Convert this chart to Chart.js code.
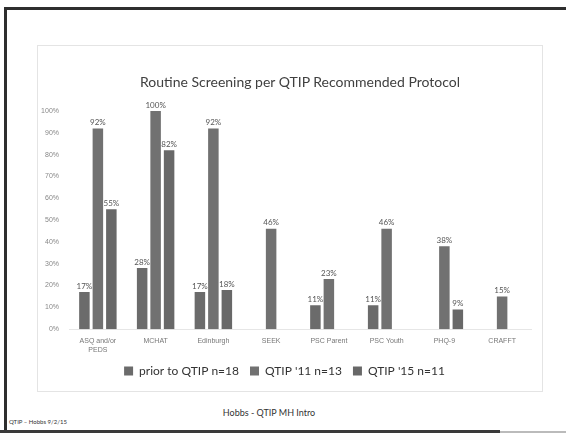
<!DOCTYPE html>
<html><head><meta charset="utf-8">
<script src="https://cdn.jsdelivr.net/npm/chart.js@4/dist/chart.umd.min.js"></script>
<style>
html,body{margin:0;padding:0;background:#fff;width:566px;height:433px;overflow:hidden;font-family:Lato,"Liberation Sans",sans-serif;}
#frameTop{position:absolute;left:4px;top:7px;width:562px;height:3px;background:#2e2e2e;}
#frameLeft{position:absolute;left:4px;top:7px;width:3px;height:426px;background:#2e2e2e;}
#frameBottom{position:absolute;left:0;top:430px;width:500px;height:3px;background:#3a3a3a;}
#frameBottom2{position:absolute;left:500px;top:431px;width:66px;height:2px;background:#bbb;}
#box{position:absolute;left:37px;top:45px;width:506px;height:347px;border:1px solid #e4e4e4;box-sizing:border-box;}
#title{position:absolute;left:0;width:600px;top:73px;text-align:center;font-size:14px;color:#404040;white-space:nowrap;}
#foot1{position:absolute;left:0;width:538px;top:407px;text-align:center;font-size:9px;color:#333;}
#foot2{position:absolute;left:9px;top:418px;font-size:6px;color:#333;}
</style></head><body>
<div id="frameTop"></div><div id="frameLeft"></div><div id="frameBottom"></div><div id="frameBottom2"></div>
<div id="box"><canvas id="c" width="504" height="345"></canvas></div>
<div id="title">Routine Screening per QTIP Recommended Protocol</div>
<div id="foot1">Hobbs - QTIP MH Intro</div>
<div id="foot2">QTIP – Hobbs 9/2/15</div>
<script>
const categories = [["ASQ and/or","PEDS"],"MCHAT","Edinburgh","SEEK","PSC Parent","PSC Youth","PHQ-9","CRAFFT"];
const seriesNames = ["prior to QTIP n=18","QTIP '11 n=13","QTIP '15 n=11"];
const priorValues = [17, 28, 17, null, 11, 11, null, null];
const qtip11Values = [92, 100, 92, 46, 23, 46, 38, 15];
const qtip15Values = [55, 82, 18, null, null, null, 9, null];
const barColors = ["#6b6b6b", "#717171", "#686868"];

const labelPlugin = {
  id: 'valueLabels',
  afterDatasetsDraw(chart) {
    const ctx = chart.ctx;
    ctx.save();
    ctx.font = '8px Lato, "Liberation Sans", sans-serif';
    ctx.fillStyle = '#555';
    ctx.textAlign = 'center';
    ctx.textBaseline = 'bottom';
    chart.data.datasets.forEach((ds, i) => {
      const meta = chart.getDatasetMeta(i);
      meta.data.forEach((el, j) => {
        const v = ds.data[j];
        if (v === null || v === undefined) return;
        ctx.fillText(v + '%', el.x, el.y - 2);
      });
    });
    ctx.restore();
  }
};

new Chart(document.getElementById('c'), {
  type: 'bar',
  data: {
    labels: categories,
    datasets: [
      {label: seriesNames[0], data: priorValues, backgroundColor: barColors[0]},
      {label: seriesNames[1], data: qtip11Values, backgroundColor: barColors[1]},
      {label: seriesNames[2], data: qtip15Values, backgroundColor: barColors[2]}
    ]
  },
  options: {
    responsive: false,
    animation: false,
    devicePixelRatio: 1,
    layout: {padding: {left: 0, right: 11, top: 65, bottom: 4}},
    datasets: {bar: {categoryPercentage: 0.7, barPercentage: 0.78}},
    plugins: {
      title: {display: false},
      legend: {position: 'bottom',
        labels: {color: '#333', boxWidth: 9, boxHeight: 9, padding: 11,
          font: {family: 'Lato, "Liberation Sans", sans-serif', size: 12}}},
      tooltip: {enabled: false}
    },
    scales: {
      x: {grid: {display: false}, border: {color: '#e6e6e6'},
        ticks: {color: '#777', font: {size: 7}, maxRotation: 0, autoSkip: false, padding: 0}},
      y: {min: 0, max: 100, grid: {display: false}, border: {display: false},
        ticks: {stepSize: 10, color: '#888', font: {size: 7}, padding: 2, callback: v => v + '%'},
        afterFit(scale) { scale.width = 31; }}
    }
  },
  plugins: [labelPlugin]
});
</script>
</body></html>
